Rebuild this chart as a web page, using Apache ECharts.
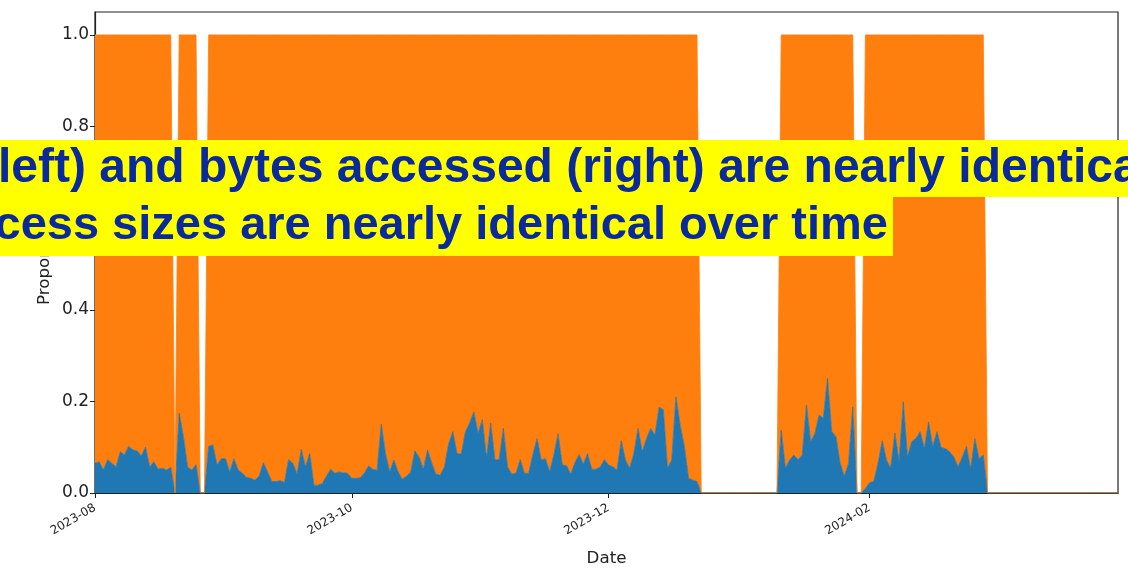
<!DOCTYPE html>
<html>
<head>
<meta charset="utf-8">
<script src="https://cdn.jsdelivr.net/npm/echarts@6/dist/echarts.min.js"></script>
<style>
  html, body { margin: 0; padding: 0; background: #ffffff; }
  #chart { width: 1128px; height: 577px; }
</style>
</head>
<body>
<div id="chart"></div>
<script>
// Share of small accesses per day. Each run holds consecutive days that begin at its start date;
// days outside every run had no traffic.
const runStarts = ['2023-08-01', '2023-08-21', '2023-08-28', '2024-01-11', '2024-01-31'];
const runAug01 = [0.065, 0.068, 0.050, 0.073, 0.065, 0.057, 0.090, 0.083, 0.102, 0.094,
                  0.092, 0.081, 0.100, 0.057, 0.068, 0.052, 0.054, 0.050, 0.056];
const runAug21 = [0.174, 0.123, 0.057, 0.050, 0.062];
const runAug28 = [0.102, 0.105, 0.061, 0.075, 0.075, 0.046, 0.075, 0.050, 0.043, 0.034,
                  0.032, 0.028, 0.037, 0.066, 0.046, 0.025, 0.025, 0.027, 0.023, 0.073,
                  0.065, 0.041, 0.095, 0.057, 0.086, 0.017, 0.017, 0.021, 0.037, 0.052,
                  0.043, 0.046, 0.044, 0.043, 0.032, 0.032, 0.033, 0.044, 0.059, 0.052,
                  0.049, 0.150, 0.086, 0.046, 0.072, 0.046, 0.030, 0.037, 0.046, 0.092,
                  0.078, 0.052, 0.094, 0.065, 0.041, 0.039, 0.057, 0.107, 0.134, 0.086,
                  0.085, 0.134, 0.153, 0.177, 0.130, 0.160, 0.076, 0.153, 0.072, 0.073,
                  0.141, 0.057, 0.041, 0.043, 0.073, 0.043, 0.043, 0.083, 0.119, 0.072,
                  0.075, 0.046, 0.083, 0.129, 0.061, 0.060, 0.041, 0.066, 0.084, 0.063,
                  0.086, 0.052, 0.052, 0.057, 0.073, 0.061, 0.057, 0.050, 0.114, 0.072,
                  0.054, 0.086, 0.141, 0.090, 0.119, 0.141, 0.126, 0.187, 0.182, 0.054,
                  0.072, 0.210, 0.148, 0.101, 0.032, 0.028, 0.025];
const runJan11 = [0.137, 0.054, 0.072, 0.083, 0.073, 0.083, 0.192, 0.112, 0.130, 0.170,
                  0.163, 0.250, 0.134, 0.123, 0.065, 0.036, 0.065, 0.188];
const runJan31 = [0.010, 0.023, 0.025, 0.065, 0.114, 0.072, 0.054, 0.131, 0.068, 0.199,
                  0.078, 0.112, 0.119, 0.134, 0.097, 0.155, 0.101, 0.134, 0.099, 0.097,
                  0.090, 0.079, 0.057, 0.078, 0.102, 0.052, 0.119, 0.075, 0.083];
const runs = [runAug01, runAug21, runAug28, runJan11, runJan31];

const rangeStart = '2023-08-01';
const rangeEnd = '2024-03-31';
const xTickLabels = ['2023-08', '2023-10', '2023-12', '2024-02'];
const yTicks = [0, 0.2, 0.4, 0.6, 0.8, 1.0];

const titleLine1 = '(left) and bytes accessed (right) are nearly identical';
const titleLine2 = 'Access sizes are nearly identical over time';
const xName = 'Date';
const yName = 'Proportion';

function parseDay(s) {
  const p = s.split('-').map(Number);
  return new Date(p[0], p[1] - 1, p[2] || 1);
}
function dayKey(d) {
  return d.getFullYear() + '-' + String(d.getMonth() + 1).padStart(2, '0') + '-' +
         String(d.getDate()).padStart(2, '0');
}

// Look-up of recorded values by calendar day.
const recorded = {};
runs.forEach(function (vals, i) {
  const d = parseDay(runStarts[i]);
  vals.forEach(function (v) {
    recorded[dayKey(d)] = v;
    d.setDate(d.getDate() + 1);
  });
});

// One category per calendar day. On a day with traffic the two shares make up the whole;
// idle days are zero for both.
const days = [];
const smallShare = [];
const otherShare = [];
const cursor = parseDay(rangeStart);
const last = dayKey(parseDay(rangeEnd));
while (true) {
  const k = dayKey(cursor);
  const v = recorded[k];
  const has = v !== undefined;
  days.push(k);
  smallShare.push(has ? v : 0);
  otherShare.push(has ? +(1 - v).toFixed(3) : 0);
  if (k === last) break;
  cursor.setDate(cursor.getDate() + 1);
}

function isTickDay(value) {
  return value.slice(8) === '01' && xTickLabels.indexOf(value.slice(0, 7)) >= 0;
}

const chart = echarts.init(document.getElementById('chart'), null, { renderer: 'canvas' });
const axisColor = '#222222';

chart.setOption({
  animation: false,
  backgroundColor: '#ffffff',
  grid: {
    left: 95, right: 10, top: 12, bottom: 84,
    show: true, borderColor: axisColor, borderWidth: 1.2, backgroundColor: 'transparent'
  },
  xAxis: {
    type: 'category',
    data: days,
    boundaryGap: false,
    name: xName,
    nameLocation: 'middle',
    nameGap: 57,
    nameTextStyle: { fontFamily: 'DejaVu Sans', fontSize: 16.7, color: axisColor },
    axisLine: { show: true, lineStyle: { color: axisColor, width: 1.2 } },
    axisTick: {
      show: true, length: 5, lineStyle: { color: axisColor, width: 1 },
      interval: function (i, value) { return isTickDay(value); }
    },
    axisLabel: {
      interval: function (i, value) { return isTickDay(value); },
      rotate: 30,
      margin: 14,
      fontFamily: 'DejaVu Sans',
      fontSize: 12,
      color: axisColor,
      formatter: function (value) { return value.slice(0, 7); }
    },
    splitLine: { show: false }
  },
  yAxis: {
    type: 'value',
    min: 0,
    max: 1.05,
    axisLine: { show: true, lineStyle: { color: axisColor, width: 1.2 } },
    axisTick: { show: true, length: 5, lineStyle: { color: axisColor, width: 1 }, customValues: yTicks },
    axisLabel: {
      customValues: yTicks,
      margin: 6,
      fontFamily: 'DejaVu Sans',
      fontSize: 17,
      color: axisColor,
      formatter: function (v) { return v.toFixed(1); }
    },
    splitLine: { show: false }
  },
  series: [
    {
      name: 'small',
      type: 'line',
      stack: 'share',
      data: smallShare,
      showSymbol: false,
      symbol: 'none',
      lineStyle: { width: 0.8, color: '#1f77b4' },
      itemStyle: { color: '#1f77b4' },
      areaStyle: { color: '#1f77b4', opacity: 1 }
    },
    {
      name: 'other',
      type: 'line',
      stack: 'share',
      data: otherShare,
      showSymbol: false,
      symbol: 'none',
      lineStyle: { width: 0.8, color: '#ff7f0e' },
      itemStyle: { color: '#ff7f0e' },
      areaStyle: { color: '#ff7f0e', opacity: 1 }
    }
  ],
  graphic: [
    {
      type: 'text',
      x: 45, y: 305,
      rotation: Math.PI / 2,
      style: {
        text: yName, font: '16.7px "DejaVu Sans"', fill: axisColor,
        align: 'left', verticalAlign: 'middle'
      },
      z: 50
    },
    {
      type: 'text',
      x: -18, y: 140,
      style: {
        text: titleLine1,
        font: 'bold 48px "Liberation Sans"',
        fill: '#0a2a9c',
        backgroundColor: '#ffff00',
        lineHeight: 57,
        padding: [0, 300, 0, 0],
        align: 'left',
        verticalAlign: 'top'
      },
      z: 100
    },
    {
      type: 'text',
      x: 893, y: 197,
      style: {
        text: titleLine2,
        font: 'bold 47px "Liberation Sans"',
        fill: '#0a2a9c',
        backgroundColor: '#ffff00',
        lineHeight: 59,
        padding: [0, 5, 0, 200],
        align: 'right',
        verticalAlign: 'top'
      },
      z: 100
    }
  ]
});
</script>
</body>
</html>
